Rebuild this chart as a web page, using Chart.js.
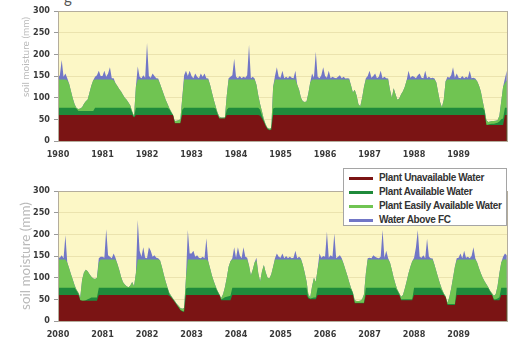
<!DOCTYPE html>
<html>
  <head>
    <style>
      * {
        margin: 0;
        padding: 0;
      }
      body {
        width: 520px;
        height: 337px;
        overflow: hidden;
        background: #ffffff;
        position: relative;
      }
      canvas {
        position: absolute;
        left: 0;
      }
      #top { top: 0; }
      #bottom { top: 180px; }
      .ytitle {
        position: absolute;
        left: 25px;
        white-space: nowrap;
        color: #b9b9b9;
        font-family: Lato, sans-serif;
        transform: translate(-50%, -50%) rotate(-90deg);
      }
      .legend {
        position: absolute;
        left: 343px;
        top: 168px;
        width: 164px;
        height: 58px;
        background: #ffffff;
        border: 1px solid #a5a5a5;
        box-sizing: border-box;
        padding-top: 2px;
      }
      .legend div {
        height: 14px;
        line-height: 14px;
        font-family: "Liberation Sans", Arial, sans-serif;
        font-size: 10px;
        font-weight: bold;
        letter-spacing: -0.35px;
        color: #333333;
        white-space: nowrap;
      }
      .legend span {
        display: inline-block;
        width: 24px;
        height: 3px;
        margin: 0 6px 0 5px;
        vertical-align: middle;
      }
      .cut {
        position: absolute;
        left: 64px;
        top: -12px;
        font-family: Lato, sans-serif;
        font-size: 15px;
        color: #555;
      }
    </style>
  </head>
  <body>
    <div class="cut">g</div>
    <canvas id="top" width="520" height="170"></canvas>
    <canvas id="bottom" width="520" height="170"></canvas>
    <div class="ytitle" style="top: 57px; font-size: 10px">soil moisture (mm)</div>
    <div class="ytitle" style="top: 256px; font-size: 13.5px">soil moisture (mm)</div>
    <div class="legend" id="legend"></div>

    <script src="https://cdn.jsdelivr.net/npm/chart.js/dist/chart.umd.min.js"></script>
    <script>
      // series names + tick labels
      const seriesNames = [
        "Plant Unavailable Water",
        "Plant Available Water",
        "Plant Easily Available Water",
        "Water Above FC",
      ];
      const years1 = [1980, 1981, 1982, 1983, 1984, 1985, 1986, 1987, 1988, 1989];
      const years2 = [2080, 2081, 2082, 2083, 2084, 2085, 2086, 2087, 2088, 2089];
      const yTicks = [0, 50, 100, 150, 200, 250, 300];

      // half-monthly readings, top edge of each layer (mm); one row per year, last row = start of next year
      const unavail1 = [
        [60,60,60,60,60,60,60,60,60,60,60,60,60,60,60,60,60,60,60,60,60,60,60,60],
        [60,60,60,60,60,60,60,60,60,60,60,60,60,60,60,60,60,54,60,60,60,60,60,60],
        [60,60,60,60,60,60,60,60,60,60,60,60,60,60,60,41,41,41,41,60,60,60,60,60],
        [60,60,60,60,60,60,60,60,60,60,60,60,60,60,60,52,52,52,52,60,60,60,60,60],
        [60,60,60,60,60,60,60,60,60,60,60,60,60,58,52,44,34,27,25,26,60,60,60,60],
        [60,60,60,60,60,60,60,60,60,60,60,60,60,60,60,60,60,60,60,60,60,60,60,60],
        [60,60,60,60,60,60,60,60,60,60,60,60,60,60,60,60,60,60,60,60,60,60,60,60],
        [60,60,60,60,60,60,60,60,60,60,60,60,60,60,60,60,60,60,60,60,60,60,60,60],
        [60,60,60,60,60,60,60,60,60,60,60,60,60,60,60,60,60,60,60,60,60,60,60,60],
        [60,60,60,60,60,60,60,60,60,60,60,60,60,60,60,37,37,37,37,37,37,37,37,37],
        [37,60,60],
      ];
      const avail1 = [
        [77,77,77,77,77,77,77,77,77,77,75,69,69,69,69,69,69,69,69,69,77,77,77,77],
        [77,77,77,77,77,77,77,77,77,77,77,77,77,77,77,77,66,54,77,77,77,77,77,77],
        [77,77,77,77,77,77,77,77,77,77,77,77,74,66,60,41,41,41,41,72,77,77,77,77],
        [77,77,77,77,77,77,77,77,77,77,77,77,77,75,63,52,52,52,52,72,77,77,77,77],
        [77,77,77,77,77,77,77,77,77,77,77,77,77,72,58,46,35,28,26,27,75,77,77,77],
        [77,77,77,77,77,77,77,77,77,77,77,77,77,77,77,77,77,77,77,77,77,77,77,77],
        [77,77,77,77,77,77,77,77,77,77,77,77,77,77,77,77,77,77,77,77,77,77,77,77],
        [77,77,77,77,77,77,77,77,77,77,77,77,77,77,77,77,77,77,77,77,77,77,77,77],
        [77,77,77,77,77,77,77,77,77,77,77,77,77,77,77,77,77,77,77,77,77,77,77,77],
        [77,77,77,77,77,77,77,77,77,77,77,77,77,77,70,37,38,39,40,40,41,42,45,50],
        [52,77,77],
      ];
      const easy1 = [
        [142,142,142,142,142,140,132,115,98,84,76,74,75,78,86,92,96,112,128,140,142,142,142,142],
        [142,142,142,142,142,142,140,133,127,120,114,107,100,95,89,82,68,57,125,142,142,142,142,142],
        [142,142,142,142,142,142,142,132,120,108,96,86,76,68,60,46,47,48,50,100,142,142,142,142],
        [142,142,142,142,142,142,142,142,142,142,130,112,95,80,66,56,54,54,55,105,142,142,142,142],
        [142,142,142,142,142,142,142,142,142,142,142,130,105,85,68,50,38,30,28,30,125,142,142,142],
        [142,142,142,142,142,142,142,142,142,130,118,100,92,90,91,110,135,142,142,142,142,142,142,142],
        [142,142,142,142,142,142,142,142,142,142,142,142,142,142,128,112,118,105,85,80,100,125,142,142],
        [142,142,142,142,142,142,142,142,142,142,142,118,100,122,108,95,98,108,115,125,140,142,142,142],
        [142,142,142,142,142,142,142,142,142,142,142,142,135,112,90,78,95,138,142,142,142,142,142,142],
        [142,142,142,142,142,142,142,142,142,142,138,128,114,92,72,48,44,45,46,46,47,48,58,92],
        [125,134,140],
      ];
      const aboveFC1 = [
        [146,152,187,148,156,145,132,115,98,84,76,74,75,78,86,92,96,112,128,140,148,152,162,150],
        [150,162,148,156,170,145,145,133,127,120,114,107,100,95,89,82,68,57,125,172,148,145,152,146],
        [226,150,146,156,150,145,144,132,120,108,96,86,76,68,60,46,47,48,50,100,152,162,150,162],
        [150,145,156,148,145,156,148,156,145,144,130,112,95,80,66,56,54,54,55,105,145,148,152,190],
        [148,145,150,145,148,146,152,222,145,148,144,130,105,85,68,50,38,30,28,30,125,150,170,148],
        [146,162,145,148,145,150,146,145,162,130,118,100,92,90,91,110,135,156,146,206,148,145,152,170],
        [150,146,162,145,148,146,145,148,152,145,148,144,145,144,128,112,118,105,85,80,100,125,145,150],
        [162,146,150,156,145,148,162,145,148,145,144,118,100,122,108,95,98,108,115,125,140,162,146,150],
        [148,145,152,156,146,145,162,145,148,145,146,144,135,112,90,78,95,138,148,146,152,170,146,156],
        [146,145,150,145,148,146,162,145,146,144,138,128,114,92,72,48,44,45,46,46,47,48,58,92],
        [125,145,162],
      ];

      const unavail2 = [
        [60,60,60,60,60,60,60,60,60,60,60,60,48,47,47,47,47,47,47,47,47,47,60,60],
        [60,60,60,60,60,60,60,60,60,60,60,60,60,60,60,60,60,60,60,60,60,60,60,60],
        [60,60,60,60,60,60,60,60,60,60,60,60,58,54,49,43,37,31,25,22,21,60,60,60],
        [60,60,60,60,60,60,60,60,60,60,60,60,60,60,60,60,48,48,48,48,48,48,60,60],
        [60,60,60,60,60,60,60,60,60,60,60,60,60,60,60,60,60,60,60,60,60,60,60,60],
        [60,60,60,60,60,60,60,60,60,60,60,60,60,60,60,52,50,50,50,50,60,60,60,60],
        [60,60,60,60,60,60,60,60,60,60,60,60,60,60,60,60,41,41,41,41,41,41,60,60],
        [60,60,60,60,60,60,60,60,60,60,60,60,60,60,60,60,60,48,48,48,48,48,48,48],
        [60,60,60,60,60,60,60,60,60,60,60,60,60,60,60,60,60,55,37,37,37,37,37,60],
        [60,60,60,60,60,60,60,60,60,60,60,60,60,60,60,60,60,60,60,48,48,48,48,60],
        [60,60,60],
      ];
      const avail2 = [
        [77,77,77,77,77,77,77,77,77,77,70,63,48,47,47,48,50,52,54,54,54,54,77,77],
        [77,77,77,77,77,77,77,77,77,77,77,77,77,77,77,77,77,77,77,77,77,77,77,77],
        [77,77,77,77,77,77,77,77,77,77,77,76,62,56,50,44,38,32,26,23,22,75,77,77],
        [77,77,77,77,77,77,77,77,77,77,77,77,77,77,68,60,50,52,55,56,57,58,77,77],
        [77,77,77,77,77,77,77,77,77,77,77,77,77,77,77,77,77,77,77,77,77,77,77,77],
        [77,77,77,77,77,77,77,77,77,77,77,77,77,77,77,55,52,53,54,54,77,77,77,77],
        [77,77,77,77,77,77,77,77,77,77,77,77,77,77,74,64,42,42,42,42,42,42,77,77],
        [77,77,77,77,77,77,77,77,77,77,77,77,77,77,77,70,62,50,50,50,50,50,50,50],
        [77,77,77,77,77,77,77,77,77,77,77,77,77,77,77,70,62,55,39,39,39,39,39,77],
        [77,77,77,77,77,77,77,77,77,77,77,77,77,77,77,77,76,68,62,50,50,52,55,77],
        [77,77,77],
      ];
      const easy2 = [
        [142,142,142,142,142,135,122,108,95,82,72,65,55,95,112,118,115,108,102,98,97,100,135,142],
        [142,142,142,142,142,142,142,142,132,118,102,90,84,80,78,82,90,80,110,142,142,142,142,142],
        [142,142,142,142,142,142,142,140,125,108,92,78,65,58,52,46,40,35,30,28,30,100,142,142],
        [142,142,142,142,142,142,142,142,142,138,122,105,92,80,70,62,53,62,78,100,125,138,142,142],
        [142,142,142,142,142,142,142,128,105,118,135,140,110,91,115,129,112,100,98,108,125,142,142,142],
        [142,142,142,142,142,142,142,142,142,142,142,142,130,112,92,62,55,80,100,90,120,142,142,142],
        [142,142,142,142,142,142,142,142,142,142,132,118,105,90,76,66,48,46,46,47,50,62,110,142],
        [142,142,142,142,142,142,142,142,142,142,142,135,118,100,85,72,64,56,60,75,92,110,125,138],
        [142,142,142,142,142,142,142,142,142,142,142,130,115,100,86,74,64,57,42,55,75,100,125,140],
        [142,142,142,142,142,142,142,142,142,142,135,122,110,100,92,85,78,70,64,58,62,80,110,135],
        [142,142,142],
      ];
      const aboveFC2 = [
        [148,146,152,145,198,135,122,108,95,82,72,65,55,95,112,118,115,108,102,98,97,100,145,148],
        [148,146,212,152,148,145,156,146,132,118,102,90,84,80,78,82,90,80,110,233,162,148,170,146],
        [145,170,162,148,152,146,145,140,125,108,92,78,65,58,52,46,40,35,30,28,30,100,210,156],
        [156,162,148,152,146,145,148,145,191,138,122,105,92,80,70,62,53,62,78,100,125,138,145,170],
        [146,170,152,145,170,148,146,128,105,118,135,146,110,91,115,129,112,100,98,108,125,145,156,148],
        [146,156,145,150,145,148,145,146,162,145,148,144,130,112,92,62,55,80,100,90,120,156,146,150],
        [148,206,146,152,148,202,145,148,152,145,132,118,105,90,76,66,48,46,46,47,50,62,110,145],
        [146,145,152,148,146,145,148,210,146,162,145,135,118,100,85,72,64,56,60,75,92,110,125,138],
        [146,170,210,148,146,152,145,190,148,145,144,130,115,100,86,74,64,57,42,55,75,100,125,145],
        [146,156,145,162,146,148,145,150,170,145,135,122,110,100,92,85,78,70,64,58,62,80,110,135],
        [148,156,152],
      ];

      const colors = ["#7b1414", "#1f8a3b", "#70c452", "#7176c6"];
      const tickFont = { family: "'DejaVu Sans Condensed', 'Liberation Sans Narrow', sans-serif", size: 9, weight: "bold" };

      // yellow plot background + grey frame
      const plotFrame = {
        id: "plotFrame",
        beforeDraw(chart) {
          const a = chart.chartArea, ctx = chart.ctx;
          ctx.save();
          ctx.fillStyle = "#fcf7c6";
          ctx.fillRect(a.left, a.top, a.right - a.left, a.bottom - a.top);
          ctx.restore();
        },
        afterDraw(chart) {
          const a = chart.chartArea, ctx = chart.ctx;
          ctx.save();
          ctx.strokeStyle = "#b4ad9c";
          ctx.lineWidth = 1;
          ctx.strokeRect(a.left + 0.5, a.top + 0.5, a.right - a.left - 1, a.bottom - a.top);
          ctx.restore();
        },
      };

      function makePanel(id, years, layers) {
        const series = layers.map((rows) => rows.flat());
        const xs = series[0].map((v, i) => years[0] + i / 24);
        const datasets = series.map((vals, k) => ({
          label: seriesNames[k],
          data: vals.map((v, i) => ({ x: xs[i], y: v })),
          fill: "origin",
          backgroundColor: colors[k],
          borderWidth: 0,
          pointRadius: 0,
          tension: 0,
        }));
        return new Chart(document.getElementById(id), {
          type: "line",
          data: { datasets },
          options: {
            responsive: false,
            animation: false,
            devicePixelRatio: 1,
            layout: { padding: { left: 0, top: 11, right: 12, bottom: 0 } },
            plugins: { legend: { display: false }, tooltip: { enabled: false } },
            scales: {
              x: {
                type: "linear",
                min: years[0],
                max: years[0] + 10.11,
                afterBuildTicks: (s) => { s.ticks = years.map((v) => ({ value: v })); },
                afterFit: (s) => { s.height = 29; },
                grid: { display: false, drawTicks: false },
                border: { display: false },
                ticks: { font: tickFont, color: "#3a3a3a", padding: 8, maxRotation: 0, autoSkip: false,
                  callback: (v) => String(v) },
              },
              y: {
                min: 0,
                max: 300,
                afterBuildTicks: (s) => { s.ticks = yTicks.map((v) => ({ value: v })); },
                afterFit: (s) => { s.width = 58; },
                grid: { color: "rgba(190,175,110,0.28)", tickColor: "#9a9a9a", tickLength: 4 },
                border: { display: false },
                ticks: { font: tickFont, color: "#3a3a3a", padding: 4 },
              },
            },
          },
          plugins: [plotFrame],
        });
      }

      makePanel("top", years1, [unavail1, avail1, easy1, aboveFC1]);
      makePanel("bottom", years2, [unavail2, avail2, easy2, aboveFC2]);

      // legend
      const legend = document.getElementById("legend");
      seriesNames.forEach((name, k) => {
        const row = document.createElement("div");
        row.innerHTML = '<span style="background:' + colors[k] + '"></span>' + name;
        legend.appendChild(row);
      });
    </script>
  </body>
</html>
